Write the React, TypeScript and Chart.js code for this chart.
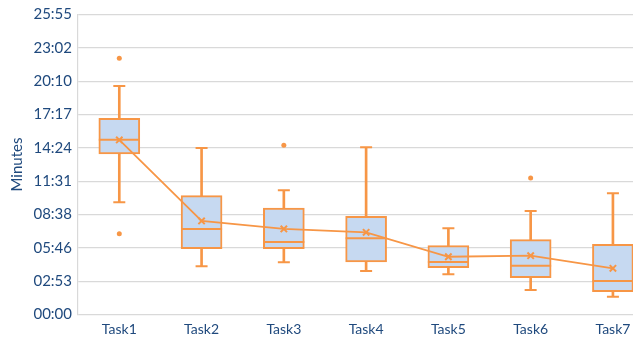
import React, { useEffect, useRef } from "react";
import { Chart, registerables } from "chart.js";

Chart.register(...registerables);

// Task durations in minutes
const categories = ["Task1", "Task2", "Task3", "Task4", "Task5", "Task6", "Task7"];
const mins = [9.69, 4.16, 4.51, 3.76, 3.47, 2.12, 1.54];
const q1s = [13.87, 5.69, 5.69, 4.54, 4.05, 3.18, 1.97];
const medians = [15.1, 7.39, 6.26, 6.58, 4.54, 4.22, 2.89];
const q3s = [16.95, 10.27, 9.2, 8.48, 5.95, 6.47, 6.07];
const maxs = [19.74, 14.39, 10.73, 14.44, 7.45, 8.94, 10.47];
const means = [15.08, 8.08, 7.39, 7.1, 4.99, 5.08, 3.99];
const outlierTasks = [0, 0, 2, 5];
const outlierValues = [22.14, 6.98, 14.62, 11.79];

// y ticks every 0.002 day (172.8 s)
const yTickValues = [0, 2.88, 5.76, 8.64, 11.52, 14.4, 17.28, 20.16, 23.04, 25.92];
const yTickLabels = ["00:00", "02:53", "05:46", "08:38", "11:31", "14:24", "17:17", "20:10", "23:02", "25:55"];

// visible index range of the category axis (the last slot runs off the right edge)
const X_MIN = -0.502;
const X_MAX = 6.244;

const ORANGE = "#F79646";
const BOX_FILL = "#C6D9F1";
const TEXT = "#1F497D";
const GRID = "#D9D9D9";
const FONT = { family: "Lato", size: 14 };

export default function App() {
  const canvasRef = useRef<HTMLCanvasElement | null>(null);

  useEffect(() => {
    document.body.style.margin = "0";
    const canvas = canvasRef.current;
    if (!canvas) return;

    const idx = categories.map((_, i) => i);

    const chart = new Chart(canvas, {
      type: "bar",
      data: {
        datasets: [
          {
            type: "line",
            label: "Mean",
            data: idx.map((i) => ({ x: i, y: means[i] })),
            borderColor: ORANGE,
            borderWidth: 1.8,
            pointStyle: "crossRot",
            pointRadius: 4.5,
            pointBorderWidth: 2,
            pointBorderColor: ORANGE,
            fill: false,
            order: 0,
          } as any,
          {
            type: "scatter",
            label: "Median",
            data: idx.map((i) => ({ x: i, y: medians[i] })),
            pointStyle: "line",
            pointRadius: 20.5,
            pointBorderWidth: 2,
            borderColor: ORANGE,
            order: 1,
          } as any,
          {
            type: "bar",
            label: "Box",
            data: idx.map((i) => ({ x: i, y: [q1s[i], q3s[i]] })),
            backgroundColor: BOX_FILL,
            borderColor: ORANGE,
            borderWidth: 2,
            borderSkipped: false,
            barThickness: 41,
            grouped: false,
            order: 2,
          } as any,
          {
            type: "bar",
            label: "Whisker",
            data: idx.map((i) => ({ x: i, y: [mins[i], maxs[i]] })),
            backgroundColor: ORANGE,
            borderWidth: 0,
            barThickness: 2,
            grouped: false,
            order: 3,
          } as any,
          {
            type: "scatter",
            label: "Caps",
            data: [
              ...idx.map((i) => ({ x: i, y: mins[i] })),
              ...idx.map((i) => ({ x: i, y: maxs[i] })),
            ],
            pointStyle: "line",
            pointRadius: 6,
            pointBorderWidth: 2,
            borderColor: ORANGE,
            order: 1,
          } as any,
          {
            type: "scatter",
            label: "Outliers",
            data: outlierTasks.map((t, k) => ({ x: t, y: outlierValues[k] })),
            pointStyle: "circle",
            pointRadius: 2.5,
            pointBorderWidth: 0,
            backgroundColor: ORANGE,
            order: 1,
          } as any,
        ],
      },
      options: {
        animation: false,
        responsive: false,
        maintainAspectRatio: false,
        layout: { autoPadding: false, padding: { top: 14.5, right: 0, left: 0, bottom: 0 } },
        plugins: { legend: { display: false }, tooltip: { enabled: false } },
        scales: {
          x: {
            type: "linear",
            min: X_MIN,
            max: X_MAX,
            offset: false,
            afterBuildTicks: (scale: any) => {
              scale.ticks = idx.map((i) => ({ value: i }));
            },
            afterFit: (scale: any) => {
              scale.height = 30.5;
              scale.paddingLeft = 0;
              scale.paddingRight = 0;
            },
            ticks: {
              autoSkip: false,
              maxRotation: 0,
              padding: 7,
              color: TEXT,
              font: FONT,
              callback: (v: any) => categories[v] ?? "",
            },
            grid: { display: false, offset: false, drawTicks: false },
            border: { display: false },
          },
          y: {
            type: "linear",
            min: 0,
            max: 25.92,
            afterBuildTicks: (scale: any) => {
              scale.ticks = yTickValues.map((v) => ({ value: v }));
            },
            afterFit: (scale: any) => {
              scale.width = 78;
              scale.paddingTop = 0;
              scale.paddingBottom = 0;
            },
            ticks: {
              padding: 6,
              color: TEXT,
              font: { family: "Lato", size: 15 },
              callback: (_v: any, i: number) => yTickLabels[i],
            },
            title: {
              display: true,
              text: "Minutes",
              color: TEXT,
              font: { family: "Lato", size: 15 },
              padding: { top: 8, bottom: 0 },
            },
            grid: { color: GRID, lineWidth: 1.2, drawTicks: false },
            border: { display: true, color: GRID, width: 1.2 },
          },
        },
      },
    });

    return () => chart.destroy();
  }, []);

  return (
    <div style={{ position: "absolute", left: 0, top: 0, width: 633, height: 345, background: "#fff" }}>
      <canvas ref={canvasRef} width={633} height={345} />
    </div>
  );
}
